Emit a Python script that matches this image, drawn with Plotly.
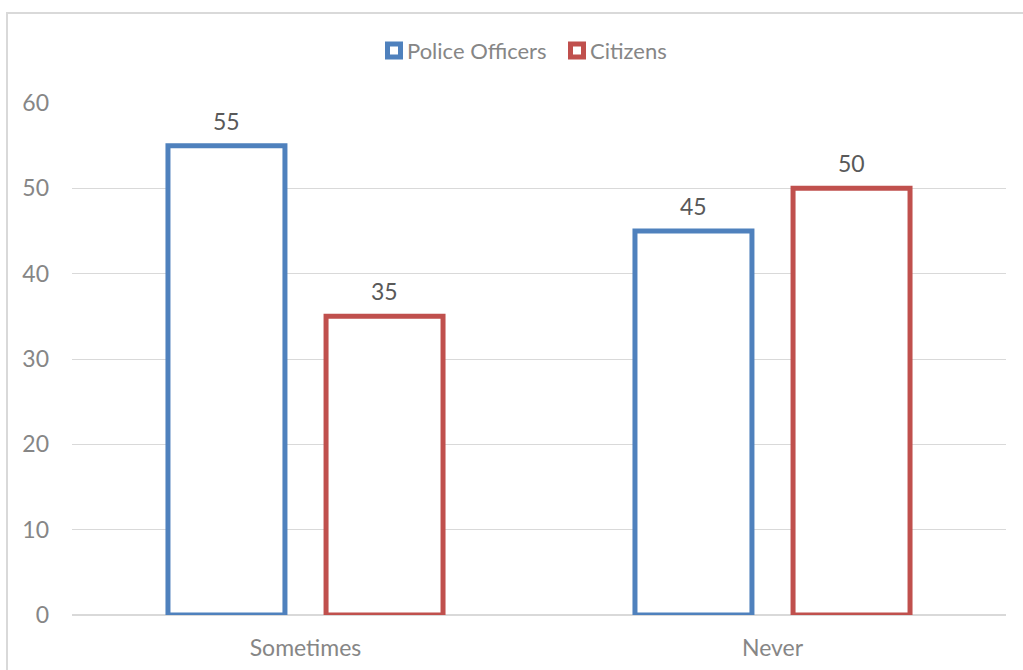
import plotly.graph_objects as go

# Survey responses (%) by group
categories = ["Sometimes", "Never"]
police_officers = [55, 45]
citizens = [35, 50]
series_names = ["Police Officers", "Citizens"]

y_ticks = [0, 10, 20, 30, 40, 50, 60]

BLUE = "#4F81BD"
RED = "#C0504D"
GRID = "#D9D9D9"
TICK_GREY = "#868686"
LABEL_GREY = "#595959"
FONT = "Lato"

W, H = 1023, 670
M_L, M_R, M_T, M_B = 72, 17, 103, 55
plot_w = W - M_L - M_R
plot_h = H - M_T - M_B


def px_to_paper_x(px):
    return (px - M_L) / plot_w


def px_to_paper_y(py):
    return (H - M_B - py) / plot_h


fig = go.Figure()

series = [(series_names[0], police_officers, BLUE), (series_names[1], citizens, RED)]
for name, vals, col in series:
    fig.add_trace(go.Bar(
        x=categories, y=vals, name=name, showlegend=False,
        marker=dict(color="white", line=dict(color=col, width=5)),
        hoverinfo="x+y",
    ))

# value labels above each bar
offsets = [-79, 79]
annotations = []
for (name, vals, col), dx in zip(series, offsets):
    for cat, v in zip(categories, vals):
        annotations.append(dict(
            x=cat, y=v, xref="x", yref="y", text=str(v), showarrow=False,
            xshift=dx, yshift=25, yanchor="middle",
            font=dict(family=FONT, size=23, color=LABEL_GREY),
        ))

# legend drawn as hollow square swatches with text beside them
legend_items = [(series_names[0], BLUE, 385), (series_names[1], RED, 568)]
shapes = []
for name, col, left in legend_items:
    shapes.append(dict(
        type="rect", xref="paper", yref="paper", layer="above",
        x0=px_to_paper_x(left + 2.5), x1=px_to_paper_x(left + 15.5),
        y0=px_to_paper_y(57), y1=px_to_paper_y(44),
        line=dict(color=col, width=5), fillcolor="white",
    ))
    annotations.append(dict(
        x=px_to_paper_x(left + 20), y=px_to_paper_y(50), xref="paper", yref="paper",
        text=name, showarrow=False, xanchor="left", yanchor="middle",
        font=dict(family=FONT, size=22, color=TICK_GREY),
    ))

# light frame around the chart area
shapes.append(dict(
    type="rect", xref="paper", yref="paper", layer="below",
    x0=px_to_paper_x(7), x1=px_to_paper_x(W + 20),
    y0=px_to_paper_y(H + 20), y1=px_to_paper_y(13),
    line=dict(color=GRID, width=2), fillcolor="rgba(0,0,0,0)",
))

fig.update_layout(
    width=W, height=H,
    margin=dict(l=M_L, r=M_R, t=M_T, b=M_B, pad=0),
    paper_bgcolor="white", plot_bgcolor="white",
    barmode="group", bargap=0.323, bargroupgap=0.26,
    font=dict(family=FONT, size=23, color=TICK_GREY),
    annotations=annotations, shapes=shapes,
    showlegend=False,
    xaxis=dict(
        showgrid=False, showline=False, ticks="", zeroline=False,
        ticklabelstandoff=17, automargin=False,
        tickfont=dict(family=FONT, size=23, color=TICK_GREY),
    ),
    yaxis=dict(
        range=[0, 60], tickvals=y_ticks, showgrid=True, gridcolor=GRID,
        gridwidth=1, zeroline=True, zerolinecolor=GRID, zerolinewidth=2,
        showline=False, ticks="", ticklabelstandoff=22, automargin=False,
        tickfont=dict(family=FONT, size=23, color=TICK_GREY),
    ),
)

fig.write_html("out.html")
